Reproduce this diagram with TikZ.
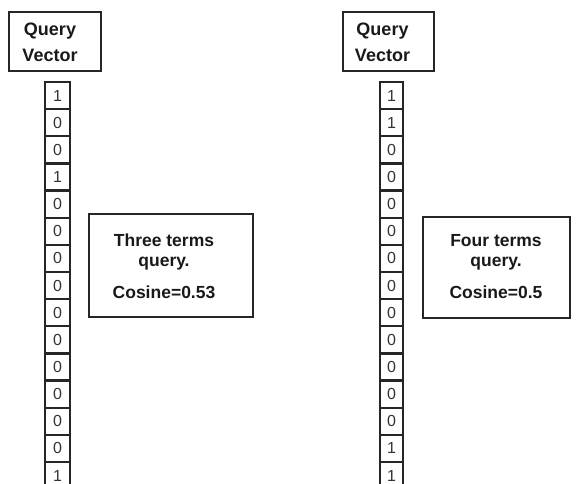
\documentclass[tikz,border=0pt]{standalone}
\usepackage{fontspec}
\setmainfont{Liberation Sans}
\usetikzlibrary{positioning}

\tikzset{
  qbox/.style={draw=black!85,line width=2.5pt,minimum width=92pt,minimum height=59pt},
  cell/.style={draw=black!85,line width=2.2pt,minimum height=27.14pt,inner sep=0pt,text=black!80,font=\fontsize{16}{16}\selectfont},
  tbox/.style={draw=black!85,line width=2pt},
  lbl/.style={align=center,text=black!90,font=\fontsize{17.5}{20}\selectfont\bfseries}
}

\begin{document}
\begin{tikzpicture}[x=1pt,y=-1pt]
	  \useasboundingbox (0,0) rectangle (578,484);
	  % left: three terms query
	  \node (QL) [qbox] at (55,41.5) {};
	  \node (QLt) [lbl,font=\fontsize{18}{26}\selectfont\bfseries] at (50,42.5) {Query\\Vector};
	  \foreach \v [count=\i] in {1,0,0,1,0,0,0,0,0,0,0,0,0,0,1}
	    \node (l\i) [cell,minimum width=25pt] at (57.5,{95.57+27.14*(\i-1)}) {\v};
	  \node (TL) [tbox,minimum width=164pt,minimum height=103pt] at (171,265.5) {};
	  \node (TLt) [lbl] at (164,266.7) {Three terms\\query.\\[12pt]Cosine=0.53};
	  % right: four terms query
	  \node (QR) [qbox,minimum width=91pt] at (388.5,41.5) {};
	  \node (QRt) [lbl,font=\fontsize{18}{26}\selectfont\bfseries] at (382.5,42.5) {Query\\Vector};
	  \foreach \v [count=\i] in {1,1,0,0,0,0,0,0,0,0,0,0,0,1,1}
	    \node (r\i) [cell,minimum width=23pt] at (391.5,{95.57+27.14*(\i-1)}) {\v};
	  \node (TR) [tbox,minimum width=147pt,minimum height=101pt] at (496.5,267.5) {};
	  \node (TRt) [lbl] at (496,266.7) {Four terms\\query.\\[12pt]Cosine=0.5};
	\end{tikzpicture}
\end{document}
